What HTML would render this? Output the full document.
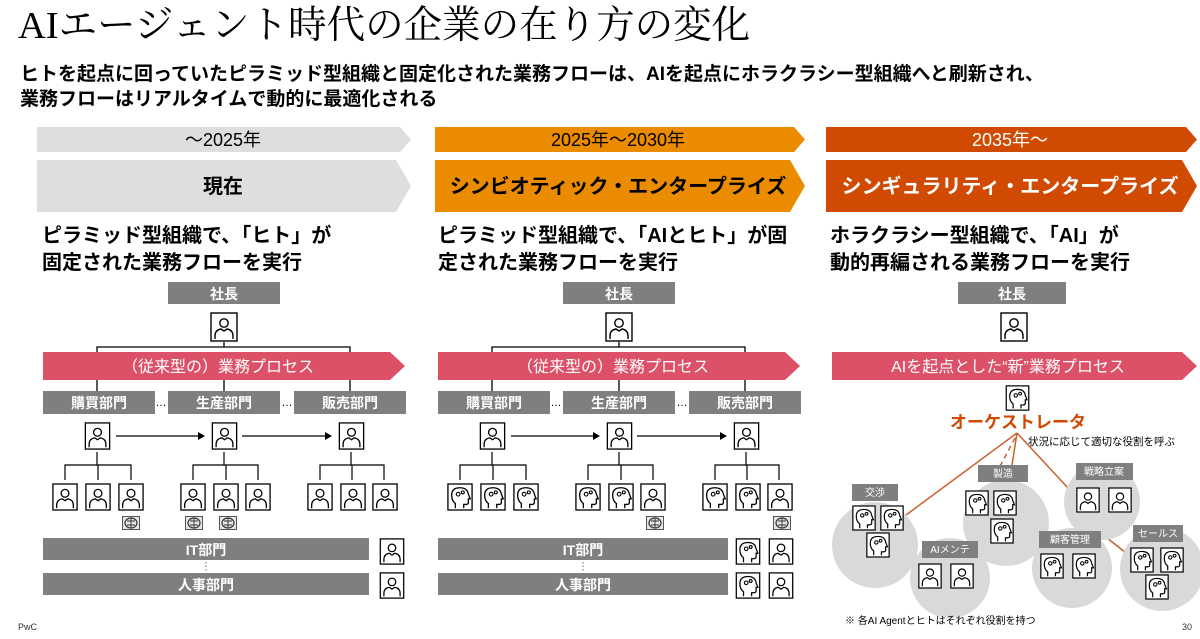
<!DOCTYPE html>
<html><head><meta charset="utf-8"><style>
html,body{margin:0;padding:0;background:#fff}
svg{display:block}
text{font-family:"Liberation Sans","Noto Sans CJK JP",sans-serif}
.b{font-weight:bold}
</style></head><body>
<svg width="1200" height="639" viewBox="0 0 1200 639" xmlns="http://www.w3.org/2000/svg">
<defs>
<symbol id="p" viewBox="0 0 28 30"><rect x="1" y="1" width="26" height="28" fill="#fff" stroke="#000" stroke-width="1.4"/><circle cx="14" cy="11" r="4.2" fill="none" stroke="#000" stroke-width="1.4"/><path d="M5 27 v-3 q0-6 6-7 l3 2 l3-2 q6 1 6 7 v3" fill="none" stroke="#000" stroke-width="1.4"/></symbol>
<symbol id="a" viewBox="0 0 28 30"><rect x="1" y="1" width="26" height="28" fill="#fff" stroke="#000" stroke-width="1.4"/><path d="M9 27 v-5 q-4-3-4-9 q0-8 9-8 q8 0 9 7 l2 5 h-2 v4 q0 2-3 2 h-2 v4" fill="none" stroke="#000" stroke-width="1.4"/><circle cx="12" cy="12" r="2" fill="none" stroke="#000" stroke-width="1.2"/><circle cx="17" cy="10" r="1.6" fill="none" stroke="#000" stroke-width="1.2"/></symbol>
<symbol id="br" viewBox="0 0 18 14"><rect x="0.5" y="0.5" width="17" height="13" fill="#e6e6e6" stroke="#555"/><ellipse cx="9" cy="7" rx="6" ry="5" fill="none" stroke="#333" stroke-width="1.2"/><path d="M9 2v10M5 5h8M5 9h8" stroke="#333" stroke-width="0.9"/></symbol>
</defs>

<text x="18" y="38" font-size="38.5" style="font-family:'Liberation Serif','Noto Serif CJK SC',serif">AIエージェント時代の企業の在り方の変化</text>
<text x="20" y="80" font-size="19" class="b">ヒトを起点に回っていたピラミッド型組織と固定化された業務フローは、AIを起点にホラクラシー型組織へと刷新され、</text>
<text x="20" y="105" font-size="19" class="b">業務フローはリアルタイムで動的に最適化される</text>

<!-- banners -->
<polygon points="37,127 400,127 411,139.5 400,152 37,152" fill="#dedede"/>
<text x="223" y="146" font-size="18" text-anchor="middle">～2025年</text>
<polygon points="37,160 396,160 411,186 396,212 37,212" fill="#dedede"/>
<text x="223" y="193" font-size="20" class="b" text-anchor="middle">現在</text>
<polygon points="435,127 794,127 805,139.5 794,152 435,152" fill="#eb8c00"/>
<text x="618" y="146" font-size="18" text-anchor="middle">2025年～2030年</text>
<polygon points="435,160 790,160 805,186 790,212 435,212" fill="#eb8c00"/>
<text x="618" y="193" font-size="20" class="b" text-anchor="middle">シンビオティック・エンタープライズ</text>
<polygon points="826,127 1186,127 1197,139.5 1186,152 826,152" fill="#d04a02"/>
<text x="1010" y="146" font-size="18" text-anchor="middle" fill="#fff">2035年～</text>
<polygon points="826,160 1182,160 1197,186 1182,212 826,212" fill="#d04a02"/>
<text x="1010" y="193" font-size="20" class="b" text-anchor="middle" fill="#fff">シンギュラリティ・エンタープライズ</text>

<text x="42" y="242" font-size="20" class="b">ピラミッド型組織で、「ヒト」が</text>
<text x="42" y="269" font-size="20" class="b">固定された業務フローを実行</text>
<text x="438" y="242" font-size="20" class="b">ピラミッド型組織で、「AIとヒト」が固</text>
<text x="438" y="269" font-size="20" class="b">定された業務フローを実行</text>
<text x="830" y="242" font-size="20" class="b">ホラクラシー型組織で、「AI」が</text>
<text x="830" y="269" font-size="20" class="b">動的再編される業務フローを実行</text>

<!-- column 1 & 2 org structure -->
<g id="c1">
<rect x="168" y="282" width="112" height="22" fill="#7f7f7f"/>
<text x="224" y="299" font-size="14" class="b" fill="#fff" text-anchor="middle">社長</text>
<use href="#p" x="210" y="312" width="28" height="30"/>
<path d="M224 342 V347 M97 358 V347 H350 V358" stroke="#000" fill="none" stroke-width="1.3"/>
<path d="M97 380 V391 M224 380 V391 M350 380 V391" stroke="#000" stroke-width="1.3"/>
<polygon points="43,352 390,352 405,366 390,380 43,380" fill="#dc5068"/>
<text x="218" y="372" font-size="16" fill="#fff" text-anchor="middle">（従来型の）業務プロセス</text>
<rect x="43" y="391" width="112" height="23" fill="#7f7f7f"/>
<rect x="168" y="391" width="112" height="23" fill="#7f7f7f"/>
<rect x="294" y="391" width="112" height="23" fill="#7f7f7f"/>
<text x="99" y="408" font-size="14" class="b" fill="#fff" text-anchor="middle">購買部門</text>
<text x="224" y="408" font-size="14" class="b" fill="#fff" text-anchor="middle">生産部門</text>
<text x="350" y="408" font-size="14" class="b" fill="#fff" text-anchor="middle">販売部門</text>
<text x="161" y="406" font-size="11" text-anchor="middle">…</text>
<text x="287" y="406" font-size="11" text-anchor="middle">…</text>
<use href="#p" x="84" y="422" width="27" height="28"/>
<use href="#p" x="211" y="422" width="27" height="28"/>
<use href="#p" x="338" y="422" width="27" height="28"/>
<path d="M116 436 H199 M242 436 H326" stroke="#000" stroke-width="1.2"/>
<polygon points="205,436 198,432 198,440" fill="#000"/>
<polygon points="332,436 325,432 325,440" fill="#000"/>
<path d="M97 452 V465 M65 480 V465 H131 V480 M98 465 V480" stroke="#000" fill="none" stroke-width="1.2"/>
<path d="M224 452 V465 M193 480 V465 H258 V480 M226 465 V480" stroke="#000" fill="none" stroke-width="1.2"/>
<path d="M351 452 V465 M320 480 V465 H384 V480 M352 465 V480" stroke="#000" fill="none" stroke-width="1.2"/>
</g>
<rect x="43" y="538" width="326" height="22" fill="#7f7f7f"/>
<text x="206" y="555" font-size="14" class="b" fill="#fff" text-anchor="middle">IT部門</text>
<rect x="43" y="573" width="326" height="22" fill="#7f7f7f"/>
<text x="206" y="590" font-size="14" class="b" fill="#fff" text-anchor="middle">人事部門</text>
<path d="M206 562 V571" stroke="#666" stroke-dasharray="1.5 2"/>
<use href="#p" x="52" y="483" width="26" height="28"/><use href="#p" x="85" y="483" width="26" height="28"/><use href="#p" x="118" y="483" width="26" height="28"/>
<use href="#p" x="180" y="483" width="26" height="28"/><use href="#p" x="213" y="483" width="26" height="28"/><use href="#p" x="245" y="483" width="26" height="28"/>
<use href="#p" x="307" y="483" width="26" height="28"/><use href="#p" x="340" y="483" width="26" height="28"/><use href="#p" x="372" y="483" width="26" height="28"/>
<use href="#br" x="122" y="516" width="18" height="14"/><use href="#br" x="185" y="516" width="18" height="14"/><use href="#br" x="219" y="516" width="18" height="14"/>
<use href="#p" x="379" y="538" width="26" height="27"/><use href="#p" x="379" y="572" width="26" height="27"/>

<use href="#c1" x="395" y="0"/>
<rect x="438" y="538" width="290" height="22" fill="#7f7f7f"/>
<text x="583" y="555" font-size="14" class="b" fill="#fff" text-anchor="middle">IT部門</text>
<rect x="438" y="573" width="290" height="22" fill="#7f7f7f"/>
<text x="583" y="590" font-size="14" class="b" fill="#fff" text-anchor="middle">人事部門</text>
<path d="M583 562 V571" stroke="#666" stroke-dasharray="1.5 2"/>
<use href="#a" x="447" y="483" width="26" height="28"/><use href="#a" x="480" y="483" width="26" height="28"/><use href="#a" x="513" y="483" width="26" height="28"/>
<use href="#a" x="575" y="483" width="26" height="28"/><use href="#a" x="608" y="483" width="26" height="28"/><use href="#p" x="640" y="483" width="26" height="28"/>
<use href="#a" x="702" y="483" width="26" height="28"/><use href="#a" x="735" y="483" width="26" height="28"/><use href="#p" x="767" y="483" width="26" height="28"/>
<use href="#br" x="646" y="516" width="18" height="14"/><use href="#br" x="773" y="516" width="18" height="14"/>
<use href="#a" x="735" y="538" width="26" height="27"/><use href="#p" x="768" y="538" width="26" height="27"/>
<use href="#a" x="735" y="572" width="26" height="27"/><use href="#p" x="768" y="572" width="26" height="27"/>

<!-- column 3 -->
<rect x="958" y="282" width="108" height="22" fill="#7f7f7f"/>
<text x="1012" y="299" font-size="14" class="b" fill="#fff" text-anchor="middle">社長</text>
<use href="#p" x="1000" y="312" width="28" height="30"/>
<polygon points="832,352 1182,352 1197,366 1182,380 832,380" fill="#dc5068"/>
<text x="1008" y="372" font-size="16" fill="#fff" text-anchor="middle">AIを起点とした“新”業務プロセス</text>
<use href="#a" x="1005" y="385" width="25" height="26"/>
<text x="1018" y="428" font-size="17" class="b" fill="#d04a02" text-anchor="middle">オーケストレータ</text>
<text x="1028" y="445" font-size="10.5">状況に応じて適切な役割を呼ぶ</text>
<g stroke="#c8602a" stroke-width="1.5" fill="none">
<path d="M1017 433 L906 515"/><path d="M1017 433 L1012 465"/><path d="M1015 438 L998 470" stroke-dasharray="5 4"/>
<path d="M1017 433 L1068 488"/><path d="M1093 527 L1130 556"/>
</g>
<g fill="#d9d9d9">
<circle cx="875" cy="545" r="43"/><circle cx="950" cy="578" r="40"/><circle cx="1006" cy="523" r="43"/>
<circle cx="1102" cy="502" r="38"/><circle cx="1072" cy="568" r="40"/><circle cx="1162" cy="569" r="42"/>
</g>
<g fill="#7f7f7f">
<rect x="852" y="484" width="46" height="17"/><rect x="978" y="465" width="50" height="17"/>
<rect x="1076" y="463" width="57" height="17"/><rect x="922" y="541" width="56" height="17"/>
<rect x="1039" y="531" width="62" height="17"/><rect x="1133" y="525" width="50" height="17"/>
</g>
<g font-size="10" fill="#fff" text-anchor="middle">
<text x="875" y="496">交渉</text><text x="1003" y="477">製造</text><text x="1104" y="475">戦略立案</text>
<text x="950" y="553">AIメンテ</text><text x="1070" y="543">顧客管理</text><text x="1158" y="537">セールス</text>
</g>
<use href="#a" x="852" y="505" width="24" height="26"/><use href="#a" x="880" y="505" width="24" height="26"/><use href="#a" x="866" y="532" width="24" height="26"/>
<use href="#p" x="918" y="563" width="24" height="26"/><use href="#p" x="950" y="563" width="24" height="26"/>
<use href="#a" x="965" y="490" width="24" height="26"/><use href="#a" x="993" y="490" width="24" height="26"/><use href="#a" x="990" y="518" width="24" height="26"/>
<use href="#p" x="1076" y="487" width="24" height="26"/><use href="#p" x="1108" y="487" width="24" height="26"/>
<use href="#a" x="1040" y="553" width="24" height="26"/><use href="#a" x="1072" y="553" width="24" height="26"/>
<use href="#a" x="1130" y="547" width="24" height="26"/><use href="#a" x="1160" y="547" width="24" height="26"/><use href="#a" x="1145" y="574" width="24" height="26"/>
<text x="845" y="624" font-size="10">※ 各AI Agentとヒトはそれぞれ役割を持つ</text>
<text x="18" y="630" font-size="9" fill="#333">PwC</text>
<text x="1182" y="630" font-size="9" fill="#333">30</text>
</svg>
</body></html>
